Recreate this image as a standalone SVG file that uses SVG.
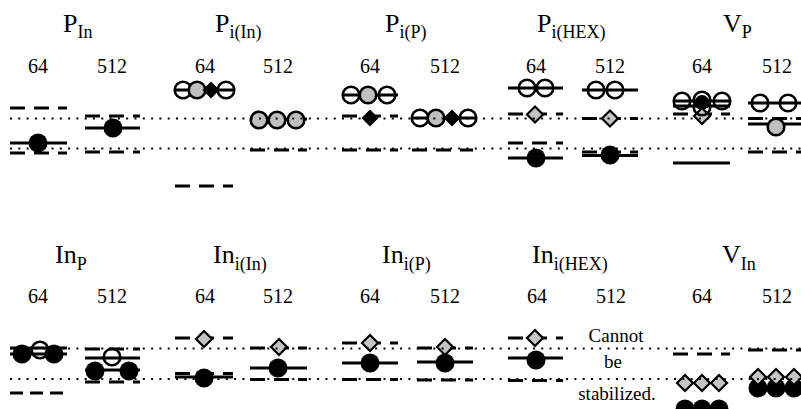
<svg xmlns="http://www.w3.org/2000/svg" width="801" height="409" viewBox="0 0 801 409">
<style>
text{fill:#000}
.t{font-size:26px}
.s{font-size:18px}
.n{font-size:20px;text-anchor:middle}
.c{font-size:19px;text-anchor:middle}
.sol{stroke:#000;stroke-width:3.2;fill:none}
.dsh{stroke:#000;stroke-width:3.2;fill:none;stroke-dasharray:15 9}
.dsh2{stroke:#000;stroke-width:3.2;fill:none;stroke-dasharray:13 7}
.dot{stroke:#000;stroke-width:2;fill:none;stroke-dasharray:2 6.3}
</style>
<defs>
<circle id="oc" r="8.3" fill="none" stroke="#000" stroke-width="2.6"/>
<circle id="gc" r="8.3" fill="#bfbfbf" stroke="#000" stroke-width="2.6"/>
<circle id="bc" r="9.5" fill="#000"/>
<polygon id="gd" points="0,-8 8,0 0,8 -8,0" fill="#c4c4c4" stroke="#000" stroke-width="2.2"/>
<polygon id="bd" points="0,-8.5 8.5,0 0,8.5 -8.5,0" fill="#000"/>
</defs>
<rect width="801" height="409" fill="#fff"/>
<g font-family="'Liberation Serif', 'Times New Roman', 'DejaVu Serif', Times, serif">

<!-- top row -->
<g id="p-in">
<text class="t" x="63" y="32">P<tspan class="s" dy="6">In</tspan></text>
<text class="n" x="38" y="73">64</text><text class="n" x="112" y="73">512</text>
<line class="dsh" x1="10" y1="108" x2="67" y2="108"/>
<line class="sol" x1="10" y1="143" x2="67" y2="143"/>
<use href="#bc" x="38" y="143"/>
<line class="dsh" x1="10" y1="153" x2="67" y2="153"/>
<line class="dsh" x1="85" y1="116" x2="140" y2="116"/>
<line class="sol" x1="85" y1="128" x2="140" y2="128"/>
<use href="#bc" x="113" y="128"/>
<line class="dsh" x1="85" y1="152" x2="140" y2="152"/>
</g>

<g id="p-i-in">
<text class="t" x="215" y="32">P<tspan class="s" dy="6">i(In)</tspan></text>
<text class="n" x="205" y="73">64</text><text class="n" x="278" y="73">512</text>
<line class="sol" x1="175" y1="90" x2="234" y2="90"/>
<use href="#oc" x="183" y="90"/><use href="#oc" x="226" y="90"/>
<use href="#gc" x="197" y="90"/><use href="#bd" x="211" y="90"/>
<line class="dsh" x1="175" y1="186" x2="233" y2="186"/>
<line class="dsh" x1="250" y1="119" x2="307" y2="119"/>
<use href="#gc" x="259" y="120"/><use href="#gc" x="277" y="120"/><use href="#gc" x="296" y="120"/>
<line class="dsh" x1="250" y1="150" x2="307" y2="150"/>
</g>

<g id="p-i-p">
<text class="t" x="385" y="32">P<tspan class="s" dy="6">i(P)</tspan></text>
<text class="n" x="370" y="73">64</text><text class="n" x="445" y="73">512</text>
<line class="sol" x1="342" y1="95" x2="398" y2="95"/>
<use href="#oc" x="351" y="95"/><use href="#gc" x="368" y="95"/><use href="#oc" x="387" y="95"/>
<line class="dsh" x1="342" y1="116" x2="398" y2="116"/>
<use href="#bd" x="370" y="118"/>
<line class="dsh" x1="342" y1="150" x2="398" y2="150"/>
<line class="sol" x1="412" y1="118" x2="477" y2="118"/>
<use href="#oc" x="420" y="118"/><use href="#gc" x="436" y="118"/><use href="#bd" x="452" y="118"/><use href="#oc" x="468" y="118"/>
<line class="dsh" x1="412" y1="150" x2="473" y2="150"/>
</g>

<g id="p-i-hex">
<text class="t" x="537" y="32">P<tspan class="s" dy="6">i(HEX)</tspan></text>
<text class="n" x="536" y="73">64</text><text class="n" x="610" y="73">512</text>
<line class="sol" x1="508" y1="88" x2="563" y2="88"/>
<use href="#oc" x="527" y="88"/><use href="#oc" x="545" y="88"/>
<line class="dsh" x1="508" y1="114" x2="563" y2="114"/>
<use href="#gd" x="535" y="114.5"/>
<line class="dsh" x1="508" y1="143" x2="563" y2="143"/>
<line class="sol" x1="508" y1="158" x2="563" y2="158"/>
<use href="#bc" x="536" y="158"/>
<line class="sol" x1="582" y1="90" x2="638" y2="90"/>
<use href="#oc" x="596" y="90"/><use href="#oc" x="615" y="90"/>
<line class="dsh" x1="582" y1="118.5" x2="638" y2="118.5"/>
<use href="#gd" x="610" y="118.5"/>
<line class="dsh" x1="582" y1="152" x2="638" y2="152"/>
<line class="sol" x1="582" y1="155.5" x2="638" y2="155.5"/>
<use href="#bc" x="610" y="155"/>
</g>

<g id="v-p">
<text class="t" x="723" y="32">V<tspan class="s" dy="6">P</tspan></text>
<text class="n" x="702" y="73">64</text><text class="n" x="777" y="73">512</text>
<line class="dsh" x1="673" y1="114" x2="730" y2="114"/>
<use href="#gd" x="702" y="116"/>
<circle cx="702" cy="102" r="7" fill="#000"/>
<line class="sol" x1="673" y1="101" x2="730" y2="101"/>
<line class="sol" x1="673" y1="106" x2="730" y2="106"/>
<use href="#oc" x="702" y="107"/>
<use href="#oc" x="682" y="101"/><use href="#oc" x="722" y="101"/><use href="#oc" x="702" y="100"/>
<line class="sol" x1="673" y1="163" x2="730" y2="163"/>
<line class="sol" x1="748" y1="103" x2="801" y2="103"/>
<use href="#oc" x="760" y="103"/><use href="#oc" x="788" y="103"/>
<line class="dsh" x1="748" y1="118.5" x2="801" y2="118.5"/>
<line class="sol" x1="748" y1="124" x2="801" y2="124"/>
<use href="#gc" x="776" y="127"/>
<line class="dsh" x1="748" y1="152" x2="801" y2="152"/>
</g>

<!-- bottom row -->
<g id="in-p">
<text class="t" x="55" y="263">In<tspan class="s" dy="7">P</tspan></text>
<text class="n" x="38" y="303">64</text><text class="n" x="112" y="303">512</text>
<line class="sol" x1="10" y1="348" x2="67" y2="348"/>
<line class="sol" x1="10" y1="354" x2="67" y2="354"/>
<use href="#oc" x="40" y="350"/>
<use href="#bc" x="22" y="354"/><use href="#bc" x="54" y="354"/>
<line class="dsh2" x1="10" y1="393" x2="63" y2="393"/>
<line class="dsh" x1="85" y1="349" x2="140" y2="349"/>
<line class="sol" x1="85" y1="358" x2="140" y2="358"/>
<use href="#oc" x="112" y="357"/>
<line class="sol" x1="85" y1="370" x2="140" y2="370"/>
<use href="#bc" x="95" y="371"/><use href="#bc" x="129" y="371"/>
<line class="dsh" x1="85" y1="382" x2="140" y2="382"/>
</g>

<g id="in-i-in">
<text class="t" x="213" y="263">In<tspan class="s" dy="7">i(In)</tspan></text>
<text class="n" x="205" y="303">64</text><text class="n" x="278" y="303">512</text>
<line class="dsh" x1="175" y1="338" x2="233" y2="338"/>
<use href="#gd" x="204" y="339"/>
<line class="dsh" x1="175" y1="373.5" x2="233" y2="373.5"/>
<line class="sol" x1="175" y1="377" x2="233" y2="377"/>
<use href="#bc" x="204" y="378"/>
<line class="dsh" x1="250" y1="348" x2="307" y2="348"/>
<use href="#gd" x="279" y="347"/>
<line class="sol" x1="250" y1="368" x2="307" y2="368"/>
<use href="#bc" x="278" y="368"/>
<line class="dsh" x1="250" y1="379.5" x2="307" y2="379.5"/>
</g>

<g id="in-i-p">
<text class="t" x="382" y="263">In<tspan class="s" dy="7">i(P)</tspan></text>
<text class="n" x="370" y="303">64</text><text class="n" x="445" y="303">512</text>
<line class="dsh" x1="342" y1="343" x2="398" y2="343"/>
<use href="#gd" x="370" y="343"/>
<line class="sol" x1="342" y1="363" x2="398" y2="363"/>
<use href="#bc" x="370" y="363"/>
<line class="dsh" x1="342" y1="379.5" x2="398" y2="379.5"/>
<line class="dsh" x1="417" y1="348" x2="473" y2="348"/>
<use href="#gd" x="445" y="347"/>
<line class="sol" x1="417" y1="362" x2="473" y2="362"/>
<use href="#bc" x="445" y="363"/>
<line class="dsh" x1="417" y1="380" x2="473" y2="380"/>
</g>

<g id="in-i-hex">
<text class="t" x="532" y="263">In<tspan class="s" dy="7">i(HEX)</tspan></text>
<text class="n" x="537" y="303">64</text><text class="n" x="611" y="303">512</text>
<line class="dsh" x1="508" y1="338" x2="563" y2="338"/>
<use href="#gd" x="535" y="338"/>
<line class="sol" x1="508" y1="358" x2="563" y2="358"/>
<use href="#bc" x="536" y="360"/>
<line class="dsh" x1="508" y1="380.5" x2="563" y2="380.5"/>
<text class="c" x="616" y="342">Cannot</text>
<text class="c" x="613" y="368">be</text>
<text class="c" x="617" y="400">stabilized.</text>
</g>

<g id="v-in">
<text class="t" x="722" y="263">V<tspan class="s" dy="7">In</tspan></text>
<text class="n" x="702" y="303">64</text><text class="n" x="777" y="303">512</text>
<line class="dsh" x1="673" y1="354" x2="730" y2="354"/>
<use href="#bc" x="685" y="409"/><use href="#bc" x="702" y="409"/><use href="#bc" x="719" y="409"/>
<use href="#gd" x="685" y="383"/><use href="#gd" x="702" y="383"/><use href="#gd" x="719" y="383"/>
<line class="dsh" x1="748" y1="350" x2="801" y2="350"/>
<use href="#bc" x="758" y="388"/><use href="#bc" x="776" y="388"/><use href="#bc" x="794" y="388"/>
<use href="#gd" x="758" y="377"/><use href="#gd" x="776" y="377"/><use href="#gd" x="794" y="377"/>
</g>

<g id="connectors">
<line class="dot" x1="10" y1="118.5" x2="801" y2="118.5"/>
<line class="dot" x1="10" y1="148.5" x2="801" y2="148.5"/>
<line class="dot" x1="10" y1="348.5" x2="801" y2="348.5"/>
<line class="dot" x1="10" y1="379" x2="801" y2="379"/>
</g>
</g>
</svg>
